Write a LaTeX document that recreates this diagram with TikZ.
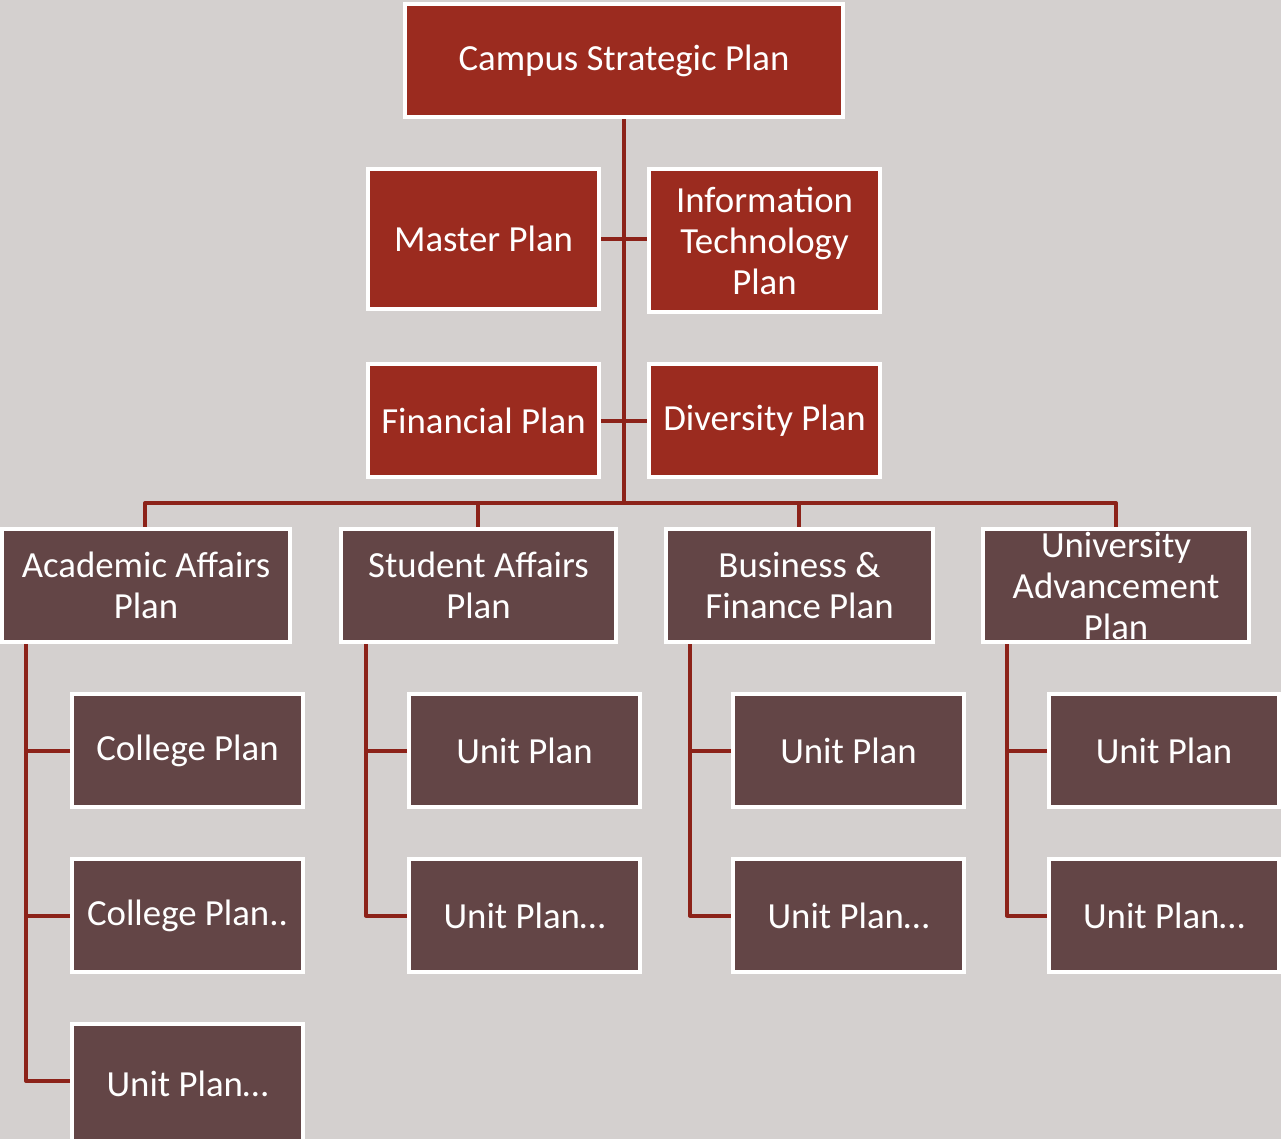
\documentclass[tikz,border=0pt]{standalone}
\usepackage{fontspec}
\setmainfont{Carlito}
\usetikzlibrary{positioning,calc}
\definecolor{paper}{HTML}{D4D0CF}
\definecolor{planred}{HTML}{9B2B1F}
\definecolor{planbrown}{HTML}{634546}
\definecolor{linkred}{HTML}{8C2219}
\tikzset{
  plan/.style={draw=white,line width=2pt,text=white,align=center,inner sep=0pt,
    minimum width=115.5pt,minimum height=56.5pt,font=\fontsize{18.4}{20.5}\selectfont},
  top/.style={plan,fill=planred},
  unit/.style={plan,fill=planbrown},
  link/.style={draw=linkred,line width=2pt,line join=round},
}
\begin{document}
\begin{tikzpicture}[x=0.5pt,y=-0.5pt]
\useasboundingbox[fill=paper] (0,0) rectangle (1281,1139);
% connectors first, boxes go on top
\coordinate (hub) at (624,503);
\path (624,119) coordinate (spine);
\draw[link] (spine) -- (hub);
\draw[link] (601,239) coordinate (ml) -- (647,239) coordinate (mr);
\draw[link] (601,421) coordinate (fl) -- (647,421) coordinate (fr);
\draw[link] (145,527) coordinate (adrop) |- (1116,503) coordinate (udrop) -- (1116,527);
\draw[link] (478,503) coordinate (sdrop) -- (478,527);
\draw[link] (799,503) coordinate (bdrop) -- (799,527);
% top block
\node[top,minimum width=219pt] (campus) at (624,60.5) {Campus Strategic Plan};
\node[top,minimum height=70pt] (master) at (483.5,239) {Master Plan};
\node[top,minimum height=71.5pt] (infotech) at (764.5,240.5) {Information\\Technology\\Plan};
\node[top] (finance) at (483.5,420.5) {Financial Plan};
\node[top] (diversity) at (764.5,420.5) {Diversity Plan};
% division plans
\node[unit,minimum width=144pt] (acad) at (146,585.5) {Academic Affairs\\Plan};
\node[unit,minimum width=137.5pt] (stud) at (478.5,585.5) {Student Affairs\\Plan};
\node[unit,minimum width=133.5pt] (bus) at (799.5,585.5) {Business \&\\Finance Plan};
\node[unit,minimum width=133pt] (univ) at (1116,585.5) {University\\Advancement\\Plan};
% unit plans
\node[unit] (college) at (187.5,750.5) {College Plan};
\node[unit] (collegemore) at (187.5,915.5) {College Plan..};
\node[unit,minimum height=60pt] (acadunit) at (187.5,1084) {Unit Plan…};
\node[unit] (studunit) at (524.5,750.5) {Unit Plan};
\node[unit] (studmore) at (524.5,915.5) {Unit Plan…};
\node[unit] (busunit) at (848.5,750.5) {Unit Plan};
\node[unit] (busmore) at (848.5,915.5) {Unit Plan…};
\node[unit,minimum width=115pt] (univunit) at (1164,750.5) {Unit Plan};
\node[unit,minimum width=115pt] (univmore) at (1164,915.5) {Unit Plan…};
% trunks under each division
\path (acad.south west) ++(26,0) coordinate (atrunk);
\path (stud.south west) ++(27,0) coordinate (strunk);
\path (bus.south west) ++(26,0) coordinate (btrunk);
\path (univ.south west) ++(26,0) coordinate (utrunk);
\draw[link] (atrunk) |- ([yshift=1.5pt]acadunit.west);
\draw[link] (college.west) -- (college.west -| atrunk);
\draw[link] (collegemore.west) -- (collegemore.west -| atrunk);
\draw[link] (strunk) |- (studmore.west);
\draw[link] (studunit.west) -- (studunit.west -| strunk);
\draw[link] (btrunk) |- (busmore.west);
\draw[link] (busunit.west) -- (busunit.west -| btrunk);
\draw[link] (utrunk) |- (univmore.west);
\draw[link] (univunit.west) -- (univunit.west -| utrunk);
\end{tikzpicture}
\end{document}
